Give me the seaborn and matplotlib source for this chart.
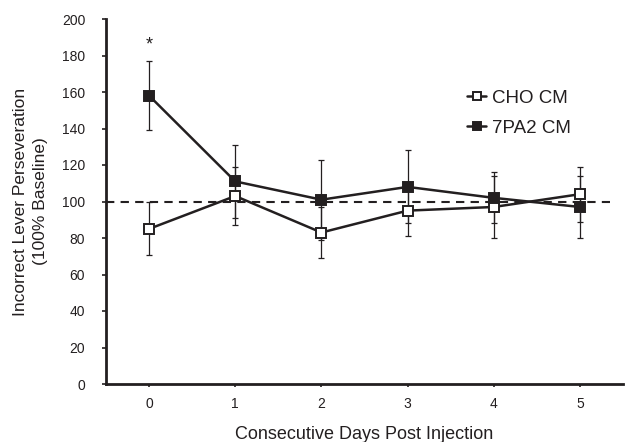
import matplotlib
matplotlib.use("Agg")
import matplotlib.pyplot as plt
import seaborn as sns
import pandas as pd
import numpy as np

days = [0, 1, 2, 3, 4, 5]
cho_mean = [85, 103, 83, 95, 97, 104]
cho_err = [14.5, 16, 14, 14, 17, 15]
pa2_mean = [158, 111, 101, 108, 102, 97]
pa2_err = [19, 20, 22, 20, 14, 17]
labels = ["CHO CM", "7PA2 CM"]
baseline = 100
yticks = [0, 20, 40, 60, 80, 100, 120, 140, 160, 180, 200]

sns.set_theme(style="ticks")
plt.rcParams['font.family'] = ['Liberation Sans', 'DejaVu Sans']

ink = '#231f20'
fig = plt.figure(figsize=(6.28, 4.42), dpi=100)
ax = fig.add_axes([106/628, 58/442, 517/628, 365/442])

df = pd.DataFrame({
    'day': days * 2,
    'value': cho_mean + pa2_mean,
    'group': [labels[0]] * 6 + [labels[1]] * 6,
})

# error bars
ax.errorbar(days, cho_mean, yerr=cho_err, fmt='none', ecolor=ink, elinewidth=0.9,
            capsize=2.5, capthick=0.9, zorder=1)
ax.errorbar(days, pa2_mean, yerr=pa2_err, fmt='none', ecolor=ink, elinewidth=0.9,
            capsize=2.5, capthick=0.9, zorder=1)

ax.axhline(baseline, xmin=0, xmax=0.975, color=ink, lw=1.5, ls=(0, (4, 3)), zorder=1.5)

sns.lineplot(data=df[df.group == labels[0]], x='day', y='value', ax=ax, color=ink,
             lw=1.8, marker='s', markersize=7, markerfacecolor='white',
             markeredgecolor=ink, markeredgewidth=1.4, label=labels[0], zorder=3)
sns.lineplot(data=df[df.group == labels[1]], x='day', y='value', ax=ax, color=ink,
             lw=1.8, marker='s', markersize=7, markerfacecolor=ink,
             markeredgecolor=ink, markeredgewidth=1.4, label=labels[1], zorder=4)

ax.text(days[0], pa2_mean[0] + pa2_err[0] + 9, '*', ha='center', va='center',
        fontsize=13, color=ink)

ax.set_xlim(-0.5, 5.5)
ax.set_ylim(0, 200)
ax.set_xticks(days)
ax.set_yticks(yticks)
ax.set_xticklabels([str(d) for d in days])
ax.set_yticklabels([str(t) for t in yticks])

for s in ['top', 'right']:
    ax.spines[s].set_visible(False)
for s in ['left', 'bottom']:
    ax.spines[s].set_linewidth(2.0)
    ax.spines[s].set_color(ink)

ax.tick_params(axis='y', direction='out', length=3, width=1.2, pad=12,
               labelsize=10, colors=ink)
ax.tick_params(axis='x', direction='out', length=2, width=1.2, pad=7,
               labelsize=10, colors=ink)

ax.set_xlabel('Consecutive Days Post Injection', fontsize=13, color=ink, labelpad=11)
ax.set_ylabel('Incorrect Lever Perseveration\n(100% Baseline)', fontsize=12.5,
              color=ink, labelpad=10, linespacing=1.4)

leg = ax.legend(loc='center left', bbox_to_anchor=(0.665, 0.742), frameon=False,
                fontsize=13.5, handlelength=1.05, handletextpad=0.3,
                labelspacing=0.7, markerscale=0.85)
for t in leg.get_texts():
    t.set_color(ink)

fig.savefig('out.png', dpi=100)
